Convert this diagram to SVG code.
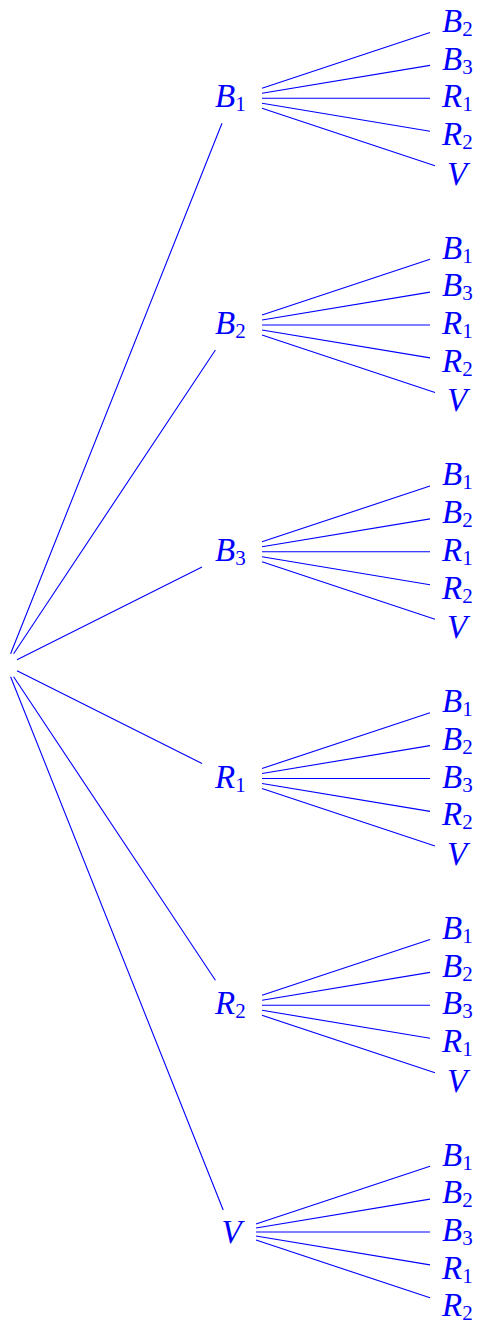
<svg xmlns="http://www.w3.org/2000/svg" width="478" height="1323" viewBox="0 0 478 1323">
<style>
.e{stroke:#0000ff;stroke-width:1.1;fill:none}
.t{font-family:"Liberation Serif","Times New Roman",serif;font-style:italic;font-size:33px;fill:#0000ff}
.s{font-size:21px;font-style:normal}
</style>
<rect width="478" height="1323" fill="#ffffff"/>
<g id="connectors" class="e">
<path d="M10.6,653.7L222,123.3M13.6,653.7L215.4,350M17,659.7L202,566.9M17,670.7L202,763.5M13.6,676.7L215.4,980.3M10.6,676.7L223.2,1210"/>
<path d="M262,88.3L430,32.5M262,93.3L430,65.4M262,98.3L430,98.3M262,103.3L430,131.2M262,108.3L435,165.7"/>
<path d="M262,315L430,259.2M262,320L430,292.1M262,325L430,325M262,330L430,357.9M262,335L435,392.4"/>
<path d="M262,541.8L430,486M262,546.8L430,518.9M262,551.8L430,551.8M262,556.8L430,584.7M262,561.8L435,619.2"/>
<path d="M262,768.5L430,712.7M262,773.5L430,745.6M262,778.5L430,778.5M262,783.5L430,811.4M262,788.5L435,845.9"/>
<path d="M262,995.3L430,939.5M262,1000.3L430,972.4M262,1005.3L430,1005.3M262,1010.3L430,1038.2M262,1015.3L435,1072.7"/>
<path d="M256,1224L430,1166.2M256,1228L430,1199.1M256,1232L430,1232M256,1236L430,1264.9M256,1240L430,1297.8"/>
</g>
<g id="root"></g>
<g id="n-B1" class="t"><text x="215" y="107.3">B<tspan class="s" dy="4">1</tspan></text></g>
<g id="n-B1-B2" class="t"><text x="442" y="31.9">B<tspan class="s" dy="4">2</tspan></text></g>
<g id="n-B1-B3" class="t"><text x="442" y="69.6">B<tspan class="s" dy="4">3</tspan></text></g>
<g id="n-B1-R1" class="t"><text x="442" y="107.3">R<tspan class="s" dy="4">1</tspan></text></g>
<g id="n-B1-R2" class="t"><text x="442" y="145">R<tspan class="s" dy="4">2</tspan></text></g>
<g id="n-B1-V" class="t"><text x="447" y="184.7">V</text></g>

<g id="n-B2" class="t"><text x="215" y="334">B<tspan class="s" dy="4">2</tspan></text></g>
<g id="n-B2-B1" class="t"><text x="442" y="258.6">B<tspan class="s" dy="4">1</tspan></text></g>
<g id="n-B2-B3" class="t"><text x="442" y="296.3">B<tspan class="s" dy="4">3</tspan></text></g>
<g id="n-B2-R1" class="t"><text x="442" y="334">R<tspan class="s" dy="4">1</tspan></text></g>
<g id="n-B2-R2" class="t"><text x="442" y="371.7">R<tspan class="s" dy="4">2</tspan></text></g>
<g id="n-B2-V" class="t"><text x="447" y="411.4">V</text></g>

<g id="n-B3" class="t"><text x="215" y="560.8">B<tspan class="s" dy="4">3</tspan></text></g>
<g id="n-B3-B1" class="t"><text x="442" y="485.4">B<tspan class="s" dy="4">1</tspan></text></g>
<g id="n-B3-B2" class="t"><text x="442" y="523.1">B<tspan class="s" dy="4">2</tspan></text></g>
<g id="n-B3-R1" class="t"><text x="442" y="560.8">R<tspan class="s" dy="4">1</tspan></text></g>
<g id="n-B3-R2" class="t"><text x="442" y="598.5">R<tspan class="s" dy="4">2</tspan></text></g>
<g id="n-B3-V" class="t"><text x="447" y="638.2">V</text></g>

<g id="n-R1" class="t"><text x="215" y="787.5">R<tspan class="s" dy="4">1</tspan></text></g>
<g id="n-R1-B1" class="t"><text x="442" y="712.1">B<tspan class="s" dy="4">1</tspan></text></g>
<g id="n-R1-B2" class="t"><text x="442" y="749.8">B<tspan class="s" dy="4">2</tspan></text></g>
<g id="n-R1-B3" class="t"><text x="442" y="787.5">B<tspan class="s" dy="4">3</tspan></text></g>
<g id="n-R1-R2" class="t"><text x="442" y="825.2">R<tspan class="s" dy="4">2</tspan></text></g>
<g id="n-R1-V" class="t"><text x="447" y="864.9">V</text></g>

<g id="n-R2" class="t"><text x="215" y="1014.3">R<tspan class="s" dy="4">2</tspan></text></g>
<g id="n-R2-B1" class="t"><text x="442" y="938.9">B<tspan class="s" dy="4">1</tspan></text></g>
<g id="n-R2-B2" class="t"><text x="442" y="976.6">B<tspan class="s" dy="4">2</tspan></text></g>
<g id="n-R2-B3" class="t"><text x="442" y="1014.3">B<tspan class="s" dy="4">3</tspan></text></g>
<g id="n-R2-R1" class="t"><text x="442" y="1052">R<tspan class="s" dy="4">1</tspan></text></g>
<g id="n-R2-V" class="t"><text x="447" y="1091.7">V</text></g>

<g id="n-V" class="t"><text x="221.5" y="1242.5">V</text></g>
<g id="n-V-B1" class="t"><text x="442" y="1165.6">B<tspan class="s" dy="4">1</tspan></text></g>
<g id="n-V-B2" class="t"><text x="442" y="1203.3">B<tspan class="s" dy="4">2</tspan></text></g>
<g id="n-V-B3" class="t"><text x="442" y="1241">B<tspan class="s" dy="4">3</tspan></text></g>
<g id="n-V-R1" class="t"><text x="442" y="1278.7">R<tspan class="s" dy="4">1</tspan></text></g>
<g id="n-V-R2" class="t"><text x="442" y="1316.4">R<tspan class="s" dy="4">2</tspan></text></g>
</svg>
